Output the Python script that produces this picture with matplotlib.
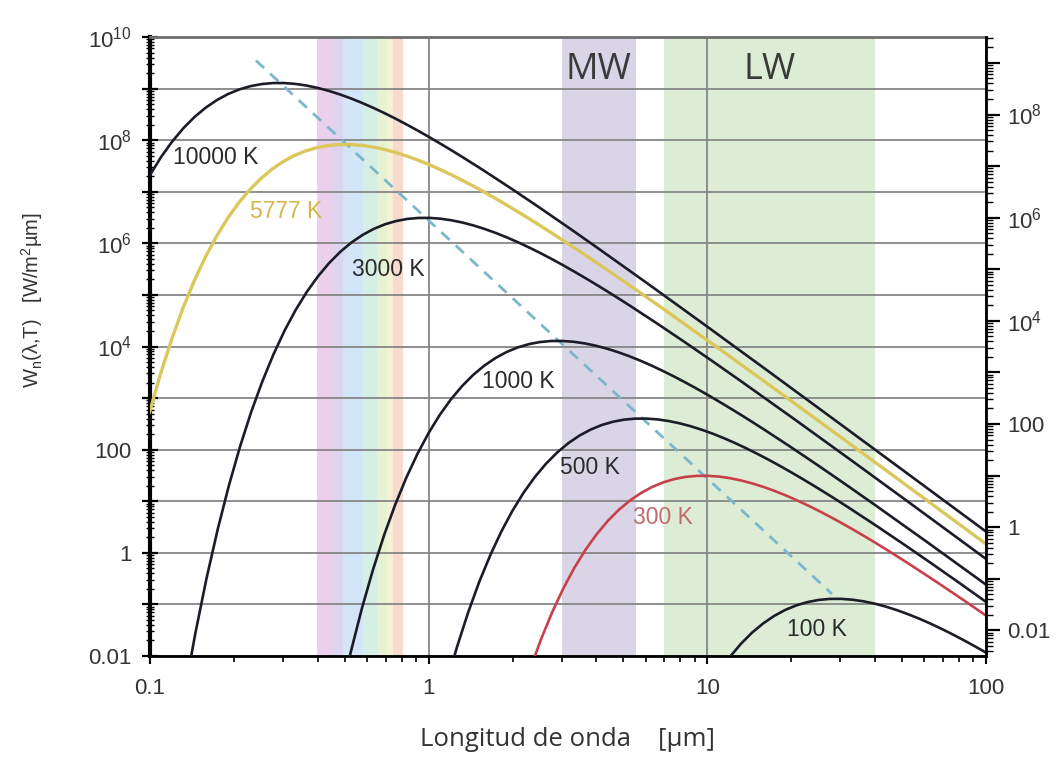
import numpy as np
import matplotlib
matplotlib.use("Agg")
import matplotlib.pyplot as plt
from matplotlib.ticker import FixedLocator, FixedFormatter, LogLocator, NullFormatter

plt.rcParams['font.family'] = ['Liberation Sans', 'DejaVu Sans']
plt.rcParams['mathtext.default'] = 'regular'

# ---- data (wavelength in µm, exitance in W/m²µm) ----
wl_10000 = [0.1, 0.1096, 0.1202, 0.1318, 0.1445, 0.1585, 0.1738, 0.1905, 0.2089, 0.2291, 0.2512,
            0.2754, 0.302, 0.3311, 0.3631, 0.3981, 0.4365, 0.4786, 0.5248, 0.5754, 0.631, 0.6918,
            0.7586, 0.8318, 0.912, 1.0, 1.096, 1.202, 1.318, 1.445, 1.585, 1.995, 2.512, 3.162,
            3.981, 6.31, 10, 15.85, 25.12, 39.81, 63.1, 100]
w_10000 = [2.111e7, 4.724e7, 9.456e7, 1.710e8, 2.819e8, 4.270e8, 5.992e8, 7.834e8, 9.610e8,
           1.112e9, 1.222e9, 1.279e9, 1.281e9, 1.235e9, 1.149e9, 1.036e9, 9.078e8, 7.755e8,
           6.477e8, 5.302e8, 4.262e8, 3.373e8, 2.630e8, 2.025e8, 1.543e8, 1.164e8, 8.698e7,
           6.451e7, 4.752e7, 3.477e7, 2.530e7, 1.120e7, 4.839e6, 2.054e6, 8.597e5, 1.461e5,
           2.418e4, 3.937e3, 634.6, 101.7, 16.22, 2.582]

wl_5777 = [0.0996, 0.1092, 0.1198, 0.1313, 0.144, 0.1579, 0.1731, 0.1898, 0.2081, 0.2282, 0.2502,
           0.2743, 0.3008, 0.3298, 0.3617, 0.3966, 0.4348, 0.4768, 0.5228, 0.5732, 0.6285, 0.6891,
           0.7556, 0.8285, 0.9084, 0.9961, 1.092, 1.198, 1.313, 1.44, 1.579, 1.731, 1.898, 2.081,
           2.282, 2.502, 2.743, 3.454, 4.348, 5.474, 6.892, 10.92, 17.31, 27.43, 43.48, 68.92, 100]
w_5777 = [528.2, 3008, 1.412e4, 5.546e4, 1.858e5, 5.372e5, 1.359e6, 3.040e6, 6.085e6, 1.101e7,
          1.814e7, 2.749e7, 3.857e7, 5.042e7, 6.185e7, 7.157e7, 7.862e7, 8.228e7, 8.247e7, 7.949e7,
          7.396e7, 6.668e7, 5.843e7, 4.991e7, 4.168e7, 3.412e7, 2.743e7, 2.171e7, 1.692e7, 1.304e7,
          9.931e6, 7.488e6, 5.598e6, 4.153e6, 3.058e6, 2.238e6, 1.628e6, 7.205e5, 3.114e5, 1.322e5,
          5.533e4, 9404, 1556, 253.4, 40.86, 6.544, 1.485]

wl_3000 = [0.1327, 0.1455, 0.1595, 0.1749, 0.1918, 0.2103, 0.2306, 0.2529, 0.2773, 0.304, 0.3333,
           0.3655, 0.4008, 0.4394, 0.4818, 0.5283, 0.5793, 0.6351, 0.6964, 0.7636, 0.8373, 0.9181,
           1.007, 1.104, 1.21, 1.327, 1.455, 1.595, 1.749, 1.918, 2.103, 2.306, 2.529, 2.773, 3.04,
           3.333, 3.655, 4.008, 4.394, 4.818, 5.283, 6.651, 8.373, 10.54, 13.27, 21.03, 33.33,
           52.83, 83.73, 100]
w_3000 = [1.832e-3, 0.02778, 0.3187, 2.830, 19.94, 113.6, 533.2, 2094, 7015, 2.028e4, 5.130e4,
          1.148e5, 2.298e5, 4.156e5, 6.850e5, 1.038e6, 1.456e6, 1.904e6, 2.336e6, 2.703e6, 2.969e6,
          3.107e6, 3.114e6, 3.001e6, 2.793e6, 2.518e6, 2.206e6, 1.884e6, 1.574e6, 1.288e6, 1.035e6,
          8.194e5, 6.391e5, 4.923e5, 3.750e5, 2.827e5, 2.113e5, 1.568e5, 1.155e5, 8.450e4, 6.148e4,
          2.721e4, 1.176e4, 4992, 2089, 355.0, 58.76, 9.568, 1.542, 0.762]

wl_1000 = [0.4786, 0.5248, 0.5754, 0.631, 0.6918, 0.7586, 0.8318, 0.912, 1.0, 1.096, 1.202, 1.318,
           1.445, 1.585, 1.738, 1.905, 2.089, 2.291, 2.512, 2.754, 3.02, 3.311, 3.631, 3.981,
           4.365, 4.786, 5.248, 5.754, 6.31, 6.918, 7.586, 8.318, 9.12, 10, 10.96, 12.02, 13.18,
           14.45, 15.85, 19.95, 25.12, 31.62, 39.81, 63.1, 100]
w_1000 = [1.312e-3, 0.01165, 0.08208, 0.4673, 2.194, 8.618, 28.86, 83.46, 211.1, 472.4, 945.6,
          1710, 2819, 4270, 5992, 7834, 9610, 1.112e4, 1.222e4, 1.279e4, 1.281e4, 1.235e4, 1.149e4,
          1.036e4, 9078, 7755, 6477, 5302, 4262, 3373, 2630, 2025, 1543, 1164, 869.8, 645.1, 475.2,
          347.7, 253.0, 112.0, 48.39, 20.54, 8.597, 1.461, 0.2418]

wl_500 = [1.151, 1.262, 1.384, 1.517, 1.664, 1.824, 2.0, 2.193, 2.405, 2.637, 2.891, 3.17, 3.476,
          3.811, 4.179, 4.582, 5.024, 5.508, 6.04, 6.623, 7.262, 7.962, 8.73, 9.573, 10.5, 11.51,
          12.62, 13.84, 15.17, 16.64, 18.24, 20, 21.93, 24.05, 26.37, 28.91, 31.7, 39.91, 50.24,
          63.25, 79.62, 100]
w_500 = [2.566e-3, 0.01461, 0.06861, 0.2694, 0.9022, 2.608, 6.598, 14.77, 29.55, 53.44, 88.10,
         133.5, 187.3, 244.8, 300.4, 347.6, 381.8, 399.6, 400.5, 386.1, 359.2, 323.9, 283.8, 242.3,
         202.4, 165.7, 133.2, 105.4, 82.19, 63.31, 48.23, 36.37, 27.19, 20.16, 14.85, 10.87, 7.907,
         3.499, 1.512, 0.642, 0.2687, 0.112]

wl_300 = [2.306, 2.529, 2.773, 3.04, 3.333, 3.655, 4.008, 4.394, 4.818, 5.283, 5.793, 6.352, 6.964,
          7.636, 8.373, 9.181, 10.07, 11.04, 12.1, 13.27, 14.55, 15.95, 17.49, 19.18, 21.03, 23.06,
          25.29, 27.73, 30.4, 33.33, 36.55, 40.08, 43.94, 48.18, 52.83, 66.51, 83.73, 100]
w_300 = [5.331e-3, 0.02094, 0.07015, 0.2028, 0.5130, 1.148, 2.298, 4.156, 6.850, 10.38, 14.56,
         19.04, 23.36, 27.03, 29.69, 31.07, 31.14, 30.01, 27.93, 25.18, 22.06, 18.84, 15.74, 12.88,
         10.35, 8.194, 6.391, 4.923, 3.750, 2.827, 2.113, 1.568, 1.155, 0.8450, 0.6148, 0.2721,
         0.1176, 0.0608]

wl_100 = [10.96, 12.02, 13.18, 14.45, 15.85, 17.38, 19.05, 20.89, 22.91, 25.12, 27.54, 30.2, 33.11,
          36.31, 39.81, 43.65, 47.86, 52.48, 57.54, 63.1, 69.18, 75.86, 83.18, 91.2, 100]
w_100 = [4.724e-3, 9.456e-3, 0.0171, 0.02819, 0.0427, 0.05992, 0.07834, 0.0961, 0.1112, 0.1222,
         0.1279, 0.1281, 0.1235, 0.1149, 0.1036, 0.09078, 0.07755, 0.06477, 0.05302, 0.04262,
         0.03373, 0.0263, 0.02025, 0.01543, 0.01164]

wien_wl = [0.24, 28]
wien_w = [3.5e9, 0.16]

curve_labels = ["10000 K", "5777 K", "3000 K", "1000 K", "500 K", "300 K", "100 K"]

visible_edges = [0.397, 0.453, 0.493, 0.58, 0.652, 0.707, 0.744, 0.809]
visible_colors = ['#ebd0ec', '#dcd5f1', '#d2e6f7', '#d6efe4', '#e6f3d3', '#f7efd6', '#f7dbcf']
mw_band = [3.0, 5.55]
lw_band = [7.0, 40.0]

x_ticks = [0.1, 1, 10, 100]
x_ticklabels = ["0.1", "1", "10", "100"]
y_decades = [1e-2, 1e-1, 1, 10, 1e2, 1e3, 1e4, 1e5, 1e6, 1e7, 1e8, 1e9, 1e10]
y_ticklabels = ["0.01", "", "1", "", "100", "", "10$^{4}$", "", "10$^{6}$", "", "10$^{8}$", "", "10$^{10}$"]
r_decades = [1e-3, 1e-2, 1e-1, 1, 10, 1e2, 1e3, 1e4, 1e5, 1e6, 1e7, 1e8, 1e9]
r_ticklabels = ["", "0.01", "", "1", "", "100", "", "10$^{4}$", "", "10$^{6}$", "", "10$^{8}$", ""]

# ---- figure ----
fig = plt.figure(figsize=(10.56, 7.6), dpi=100)
ax = fig.add_axes([150 / 1056, 1 - 656 / 760, (986 - 150) / 1056, (656 - 37) / 760])
ax.set_xscale('log')
ax.set_yscale('log')
ax.set_xlim(0.1, 100)
ax.set_ylim(0.01, 1e10)

# bands
for i, c in enumerate(visible_colors):
    ax.axvspan(visible_edges[i], visible_edges[i + 1], color=c, lw=0, zorder=0)
ax.axvspan(mw_band[0], mw_band[1], color='#d9d5e7', lw=0, zorder=0)
ax.axvspan(lw_band[0], lw_band[1], color='#ddedd5', lw=0, zorder=0)

# ticks / grid
ax.xaxis.set_major_locator(FixedLocator(x_ticks))
ax.xaxis.set_major_formatter(FixedFormatter(x_ticklabels))
ax.xaxis.set_minor_locator(LogLocator(base=10, subs=np.arange(2, 10), numticks=20))
ax.xaxis.set_minor_formatter(NullFormatter())
ax.yaxis.set_major_locator(FixedLocator(y_decades))
ax.yaxis.set_major_formatter(FixedFormatter(y_ticklabels))
ax.yaxis.set_minor_locator(LogLocator(base=10, subs=np.arange(2, 10), numticks=30))
ax.yaxis.set_minor_formatter(NullFormatter())
ax.grid(True, which='major', axis='both', color='#868686', lw=1.3, zorder=1)
ax.set_axisbelow(True)

ax.tick_params(axis='x', which='major', direction='out', length=6, width=1.5, pad=10,
               labelsize=16, labelcolor='#333333')
ax.tick_params(axis='x', which='minor', direction='out', length=4, width=1.2)
ax.tick_params(axis='y', which='major', direction='inout', length=12, width=1.6, pad=7,
               labelsize=16, labelcolor='#333333')
ax.tick_params(axis='y', which='minor', direction='inout', length=6, width=1.0)

ax.spines['left'].set_linewidth(3)
ax.spines['bottom'].set_linewidth(2)
ax.spines['top'].set_linewidth(2)
ax.spines['top'].set_color('#6e6e6e')
ax.spines['right'].set_visible(False)

# Wien line
ax.plot(wien_wl, wien_w, color='#7cb6ca', lw=2, ls=(0, (4, 3)), zorder=3)

# curves
dark = '#1c1c28'
ax.plot(wl_10000, w_10000, color=dark, lw=1.9, zorder=4)
ax.plot(wl_5777, w_5777, color='#dcc75c', lw=2.4, zorder=4)
ax.plot(wl_3000, w_3000, color=dark, lw=1.9, zorder=4)
ax.plot(wl_1000, w_1000, color=dark, lw=1.9, zorder=4)
ax.plot(wl_500, w_500, color=dark, lw=1.9, zorder=4)
ax.plot(wl_300, w_300, color='#c8404a', lw=1.9, zorder=4)
ax.plot(wl_100, w_100, color=dark, lw=1.9, zorder=4)

lab_pos = [(0.1725, 4.7e7), (0.307, 4.06e6), (0.714, 3.05e5), (2.09, 2060), (3.79, 46),
           (6.93, 4.8), (24.7, 0.032)]
lab_col = ['#2a2a2a', '#d4b64a', '#2a2a2a', '#2a2a2a', '#2a2a2a', '#c46a6a', '#2a2a2a']
for t, (x, y), c in zip(curve_labels, lab_pos, lab_col):
    ax.text(x, y, t, color=c, fontsize=16.5, ha='center', va='center', zorder=5)

ax.text(4.05, 2.3e9, "MW", fontsize=26, family=['Open Sans', 'DejaVu Sans'], color='#3a3a3a',
        ha='center', va='center', zorder=5)
ax.text(16.8, 2.3e9, "LW", fontsize=26, family=['Open Sans', 'DejaVu Sans'], color='#3a3a3a',
        ha='center', va='center', zorder=5)

# right axis (radiance = exitance / pi)
ax2 = ax.twinx()
ax2.set_yscale('log')
ax2.set_ylim(0.01 / np.pi, 1e10 / np.pi)
ax2.yaxis.set_major_locator(FixedLocator(r_decades))
ax2.yaxis.set_major_formatter(FixedFormatter(r_ticklabels))
ax2.yaxis.set_minor_locator(LogLocator(base=10, subs=np.arange(2, 10), numticks=30))
ax2.yaxis.set_minor_formatter(NullFormatter())
ax2.tick_params(axis='y', which='major', direction='out', length=10, width=1.6, pad=5,
                labelsize=16, labelcolor='#333333')
ax2.tick_params(axis='y', which='minor', direction='out', length=5, width=1.0)
for s in ['left', 'top', 'bottom']:
    ax2.spines[s].set_visible(False)
ax2.spines['right'].set_linewidth(2)

fig.text(568 / 1056, 1 - 740 / 760, "Longitud de onda    [µm]", fontsize=18.5,
         family=['Open Sans', 'DejaVu Sans'], color='#333333', ha='center', va='center')
fig.text(32 / 1056, 1 - 300 / 760, "W$_{n}$(λ,T)   [W/m$^{2}$µm]", fontsize=14.5, rotation=90,
         color='#333333', ha='center', va='center')

fig.savefig("out.png", dpi=100)
